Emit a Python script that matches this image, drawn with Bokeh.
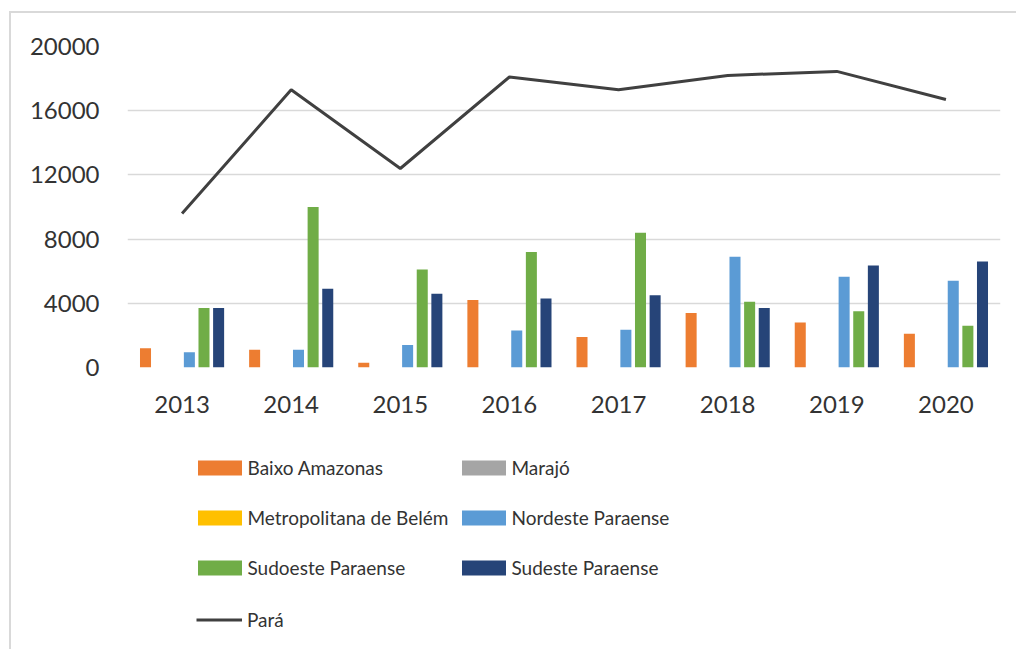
from bokeh.plotting import figure
from bokeh.layouts import column
from bokeh.models import (FactorRange, Range1d, FixedTicker, Legend, LegendItem,
                          ColumnDataSource)
from bokeh.transform import dodge
from bokeh.embed import file_html
from bokeh.resources import INLINE

years = ["2013", "2014", "2015", "2016", "2017", "2018", "2019", "2020"]
baixo_amazonas = [1200, 1100, 300, 4200, 1900, 3400, 2800, 2100]
marajo = [0, 0, 0, 0, 0, 0, 0, 0]
metropolitana_belem = [0, 0, 0, 0, 0, 0, 0, 0]
nordeste_paraense = [950, 1100, 1400, 2300, 2350, 6900, 5650, 5400]
sudoeste_paraense = [3700, 10000, 6100, 7200, 8400, 4100, 3500, 2600]
sudeste_paraense = [3700, 4900, 4600, 4300, 4500, 3700, 6350, 6600]
para = [9600, 17300, 12400, 18100, 17300, 18200, 18450, 16700]
y_ticks = [0, 4000, 8000, 12000, 16000, 20000]

series_names = ["Baixo Amazonas", "Marajó", "Metropolitana de Belém",
                "Nordeste Paraense", "Sudoeste Paraense", "Sudeste Paraense"]
series_values = [baixo_amazonas, marajo, metropolitana_belem,
                 nordeste_paraense, sudoeste_paraense, sudeste_paraense]
series_colors = ["#ED7D31", "#A5A5A5", "#FFC000", "#5B9BD5", "#70AD47", "#264478"]
offsets = [-0.335, -0.201, -0.067, 0.067, 0.201, 0.335]

FONT = "Lato"
TEXT = "#333333"
LINE = "#404040"

data = {"year": years, "para": para}
for i, v in enumerate(series_values):
    data[f"s{i}"] = v
source = ColumnDataSource(data)

W = 1005
p = figure(x_range=FactorRange(*years, range_padding=0), y_range=Range1d(0, 20000),
           width=W, height=430, output_backend="svg", toolbar_location=None,
           min_border_left=116, min_border_right=16, min_border_top=33,
           min_border_bottom=76)
p.outline_line_color = None
p.background_fill_color = "white"
p.border_fill_color = "white"

for i in range(6):
    p.vbar(x=dodge("year", offsets[i], range=p.x_range), top=f"s{i}", width=0.101,
           source=source, fill_color=series_colors[i], line_color=None)
p.line(x="year", y="para", source=source, line_color=LINE, line_width=3)

p.xgrid.grid_line_color = None
p.ygrid.grid_line_color = "#d9d9d9"
p.ygrid.grid_line_width = 1.5
p.yaxis.ticker = FixedTicker(ticks=y_ticks)
p.yaxis.axis_line_color = None
p.yaxis.major_tick_line_color = None
p.yaxis.minor_tick_line_color = None
p.yaxis.major_label_standoff = 22
p.xaxis.axis_line_color = None
p.xaxis.major_tick_line_color = None
p.xaxis.minor_tick_line_color = None
p.xaxis.major_label_standoff = 22
for ax in (p.xaxis, p.yaxis):
    ax.major_label_text_font = FONT
    ax.major_label_text_font_size = "24px"
    ax.major_label_text_color = TEXT

# legend panel: a second figure whose proxy glyphs lie outside its visible range
LH = 206
q = figure(width=W, height=LH, output_backend="svg", toolbar_location=None,
           x_range=Range1d(0, 1), y_range=Range1d(0, 1),
           x_axis_location=None, y_axis_location=None,
           min_border_left=0, min_border_right=0, min_border_top=0, min_border_bottom=0)
q.outline_line_color = None
q.grid.grid_line_color = None
proxy = ColumnDataSource({"x": [-5.0, -6.0], "y": [-5.0, -6.0]})
leg_r = [q.vbar(x="x", top="y", bottom=-7, width=0.1, source=proxy,
                fill_color=series_colors[i], line_color=None) for i in range(6)]
leg_line = q.line(x="x", y="y", source=proxy, line_color=LINE, line_width=3)


def make_legend(items, loc, gw=55, gh=19, standoff=1):
    return Legend(items=items, location=loc, orientation="vertical",
                  glyph_width=gw, glyph_height=gh, label_height=15,
                  label_standoff=standoff, spacing=27, padding=0, margin=0,
                  border_line_color=None, background_fill_alpha=0,
                  label_text_font=FONT, label_text_font_size="19px",
                  label_text_color=TEXT)


left_items = [LegendItem(label=series_names[0], renderers=[leg_r[0]]),
              LegendItem(label=series_names[2], renderers=[leg_r[2]]),
              LegendItem(label=series_names[4], renderers=[leg_r[4]])]
right_items = [LegendItem(label=series_names[1], renderers=[leg_r[1]]),
               LegendItem(label=series_names[3], renderers=[leg_r[3]]),
               LegendItem(label=series_names[5], renderers=[leg_r[5]])]
line_items = [LegendItem(label="Pará", renderers=[leg_line])]
q.add_layout(make_legend(left_items, (64.5, 70)), "center")
q.add_layout(make_legend(right_items, (328.5, 70)), "center")
q.add_layout(make_legend(line_items, (69, 18), gw=46, gh=15, standoff=5), "center")

layout = column(p, q, spacing=0,
                styles={"margin-left": "9px", "margin-top": "11px",
                        "border-left": "2px solid #d9d9d9",
                        "border-top": "2px solid #d9d9d9"})

open("out.html", "w").write(file_html(layout, INLINE))
